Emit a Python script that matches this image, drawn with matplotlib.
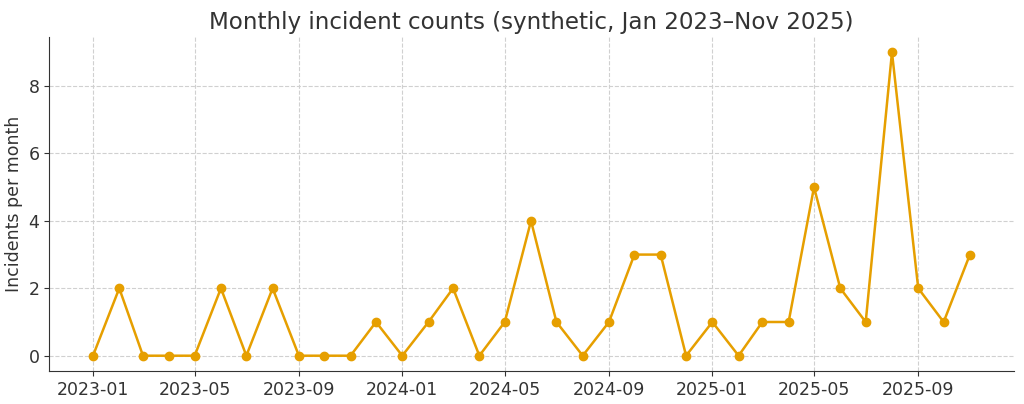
import matplotlib
matplotlib.use("Agg")
import matplotlib.pyplot as plt
import matplotlib.dates as mdates
import pandas as pd

months = pd.date_range("2023-01-01", "2025-11-01", freq="MS")
counts = [0, 2, 0, 0, 0, 2, 0, 2, 0, 0, 0, 1,
          0, 1, 2, 0, 1, 4, 1, 0, 1, 3, 3, 0,
          1, 0, 1, 1, 5, 2, 1, 9, 2, 1, 3]

text_color = "#333333"
line_color = "#E69F00"

fig = plt.figure(figsize=(10.24, 4.04), dpi=100)
ax = fig.add_axes([0.048, 0.082, 0.942, 0.826])

ax.plot(months, counts, color=line_color, marker="o", markersize=6, linewidth=1.8)

ax.set_title("Monthly incident counts (synthetic, Jan 2023\u2013Nov 2025)",
             fontsize=16.6, color=text_color)
ax.set_ylabel("Incidents per month", fontsize=12.5, color=text_color)

ax.xaxis.set_major_locator(mdates.MonthLocator(bymonth=[1, 5, 9]))
ax.xaxis.set_major_formatter(mdates.DateFormatter("%Y-%m"))
ax.set_yticks([0, 2, 4, 6, 8])
ax.tick_params(labelsize=12.5, colors=text_color)

ax.grid(True, linestyle="--", color="#d0d0d0", linewidth=0.8)
ax.set_axisbelow(True)
for side in ["top", "right"]:
    ax.spines[side].set_visible(False)
for side in ["left", "bottom"]:
    ax.spines[side].set_color(text_color)

fig.savefig("out.png", dpi=100)
